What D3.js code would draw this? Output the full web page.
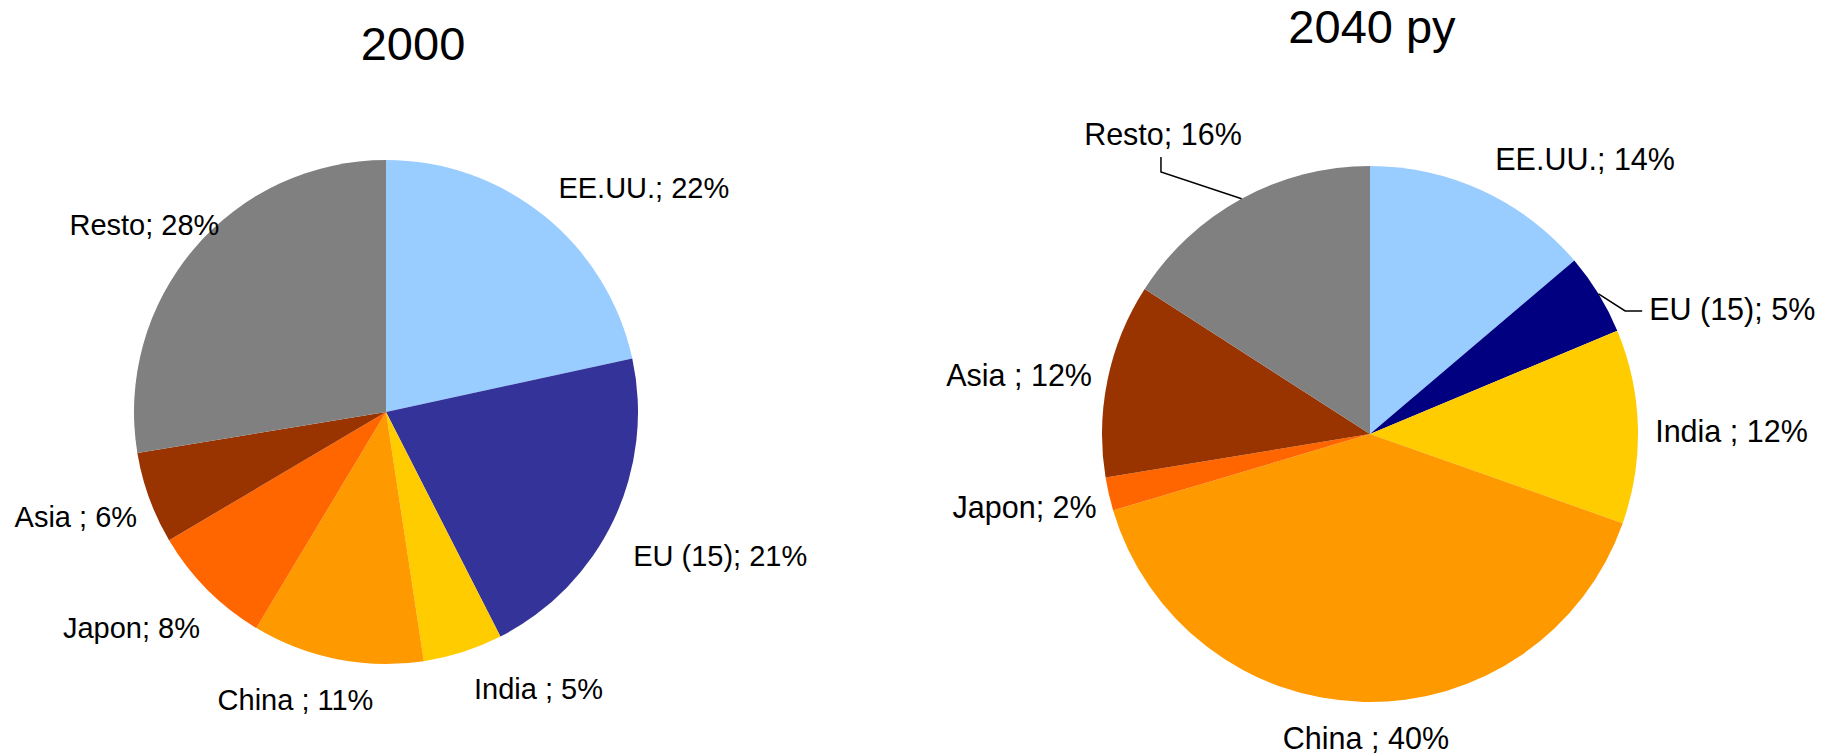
<!DOCTYPE html>
<html>
<head>
<meta charset="utf-8">
<script src="https://cdn.jsdelivr.net/npm/d3@7"></script>
<style>
  body { margin: 0; background: #fff; }
  text { font-family: "Liberation Sans", Arial, sans-serif; fill: #000; }
</style>
</head>
<body>
<svg></svg>
<script>
// data (shares in %)
const categories = ["EE.UU.", "EU (15)", "India ", "China ", "Japon", "Asia ", "Resto"];
const values2000 = [21.6, 20.9, 5.1, 11.0, 7.9, 5.9, 27.6];
const values2040 = [13.8, 4.9, 11.7, 40.0, 2.0, 11.7, 15.9];
const colors2000 = ["#99ccff", "#333399", "#ffcc00", "#ff9900", "#ff6600", "#993300", "#808080"];
const colors2040 = ["#99ccff", "#000080", "#ffcc00", "#ff9900", "#ff6600", "#993300", "#808080"];

let width = 1838, height = 755;

let svg = d3.select("svg")
            .attr("width", width)
            .attr("height", height);

// layout: pie centre, radius, title, label nudges from the label-arc centroid
let charts = [
  { title: "2000", values: values2000, colors: colors2000,
    cx: 386, cy: 412, r: 252, font: 29, titleX: 413, titleY: 60,
    nudge: [[68, 11], [61, 14], [60, -11], [-32, -9], [-40, 3], [-26, 2], [-11, 9]],
    leaders: {} },
  { title: "2040 py", values: values2040, colors: colors2040,
    cx: 1370, cy: 434, r: 268, font: 30.5, titleX: 1372, titleY: 43,
    nudge: [[80, 17], [88, 43], [40, 6], [4, -17], [-32, 1], [-36, 7], [-53, -17]],
    leaders: { 1: "left", 6: "below" } }
];

let pie = d3.pie().sort(null).value(d => d);

charts.forEach(c => {
  let g = svg.append("g").attr("transform", `translate(${c.cx},${c.cy})`),
      arcs = pie(c.values),
      total = d3.sum(c.values),
      arc = d3.arc().innerRadius(0).outerRadius(c.r),
      labelArc = d3.arc().innerRadius(c.r * 1.2).outerRadius(c.r * 1.2),
      edgeArc = d3.arc().innerRadius(c.r).outerRadius(c.r);

  g.selectAll("path")
    .data(arcs)
    .enter()
    .append("path")
    .attr("d", arc)
    .attr("fill", (d, i) => c.colors[i]);

  svg.append("text")
    .attr("x", c.titleX)
    .attr("y", c.titleY)
    .attr("text-anchor", "middle")
    .attr("font-size", 47)
    .text(c.title);

  let labels = g.selectAll("text.lbl")
    .data(arcs)
    .enter()
    .append("text")
    .classed("lbl", true)
    .attr("x", (d, i) => labelArc.centroid(d)[0] + c.nudge[i][0])
    .attr("y", (d, i) => labelArc.centroid(d)[1] + c.nudge[i][1])
    .attr("dy", "0.35em")
    .attr("text-anchor", "middle")
    .attr("font-size", c.font)
    .text((d, i) => `${categories[i]}; ${Math.round(d.value / total * 100)}%`);

  // leader lines for the small-angle labels
  labels.each(function(d, i) {
    let side = c.leaders[i];
    if (!side) return;
    let b = this.getBBox(),
        p0 = edgeArc.centroid(d),
        pts;
    if (side == "left") {
      let y = b.y + b.height * 0.55;
      pts = [p0, [b.x - 24, y], [b.x - 7, y]];
    } else {
      let x = b.x + b.width / 2 - 2,
          base = b.y + b.height * 0.78;
      pts = [p0, [x, base + 28], [x, base + 13]];
    }
    g.append("path")
      .attr("d", d3.line()(pts))
      .attr("fill", "none")
      .attr("stroke", "#000")
      .attr("stroke-width", 1.5);
  });
});
</script>
</body>
</html>
